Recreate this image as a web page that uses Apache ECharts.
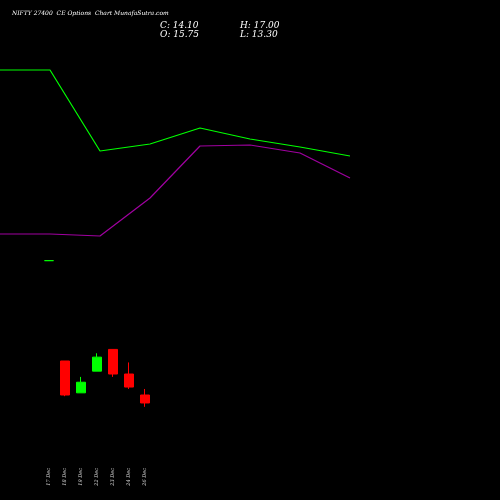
<!DOCTYPE html>
<html>
<head>
<meta charset="utf-8" />
<script src="https://cdn.jsdelivr.net/npm/echarts@6/dist/echarts.min.js"></script>
<style>* { margin: 0; padding: 0; } body { background: #000; }</style>
</head>
<body>
<div id="main" style="width: 500px; height: 500px"></div>
<script>
  var chart = echarts.init(document.getElementById("main"));

  const days = ["17 Dec", "18 Dec", "19 Dec", "22 Dec", "23 Dec", "24 Dec", "26 Dec"];
  // [open, close, low, high]
  const candles = [
    [43.6, 43.6, 43.6, 43.6],
    [22.8, 15.75, 15.5, 22.8],
    [16.2, 18.4, 16.2, 19.5],
    [20.7, 23.6, 20.7, 24.4],
    [25.2, 20.1, 19.5, 25.2],
    [20.1, 17.4, 17.0, 22.5],
    [15.75, 14.1, 13.3, 17.0],
  ];
  const linePoints = ["1", "2", "3", "4", "5", "6", "7", "8"];
  const greenLine = [430, 430, 349, 356, 372, 361, 353, 344];
  const purpleLine = [266, 266, 264, 302, 354, 355, 347, 322];

  var serif = "DejaVu Serif";
  chart.setOption({
    backgroundColor: "#000",
    animation: false,
    graphic: [
      { type: "text", left: 12, top: 10, style: { text: "NIFTY 27400  CE Options  Chart MunafaSutra.com", fill: "#fff", font: "italic 6px " + serif } },
      { type: "text", left: 160, top: 21, style: { text: "C: 14.10", fill: "#fff", font: "italic 9px " + serif } },
      { type: "text", left: 160, top: 30, style: { text: "O: 15.75", fill: "#fff", font: "italic 9px " + serif } },
      { type: "text", left: 240, top: 21, style: { text: "H: 17.00", fill: "#fff", font: "italic 9px " + serif } },
      { type: "text", left: 240, top: 30, style: { text: "L: 13.30", fill: "#fff", font: "italic 9px " + serif } },
    ],
    grid: [
      { left: 41, width: 112, top: 3, height: 468 },
      { left: 0, width: 350, top: 0, height: 500 },
    ],
    xAxis: [
      {
        type: "category", data: days, gridIndex: 0,
        axisLine: { show: false }, axisTick: { show: false },
        axisLabel: { rotate: 90, color: "#ddd", fontSize: 5, fontFamily: serif, fontStyle: "italic", margin: -3, interval: 0 },
      },
      { type: "category", data: linePoints, gridIndex: 1, boundaryGap: false, show: false },
    ],
    yAxis: [
      { type: "value", gridIndex: 0, min: 0, max: 97, show: false, splitLine: { show: false } },
      { type: "value", gridIndex: 1, min: 0, max: 500, show: false, splitLine: { show: false } },
    ],
    series: [
      {
        type: "candlestick", xAxisIndex: 0, yAxisIndex: 0, data: candles, barWidth: 9,
        itemStyle: { color: "#00ff00", color0: "#ff0000", borderColor: "#00ff00", borderColor0: "#ff0000", borderWidth: 1 },
      },
      { type: "line", xAxisIndex: 1, yAxisIndex: 1, data: greenLine, symbol: "none", lineStyle: { color: "#00ff00", width: 1.2 } },
      { type: "line", xAxisIndex: 1, yAxisIndex: 1, data: purpleLine, symbol: "none", lineStyle: { color: "#a000a0", width: 1.2 } },
    ],
  });
</script>
</body>
</html>
